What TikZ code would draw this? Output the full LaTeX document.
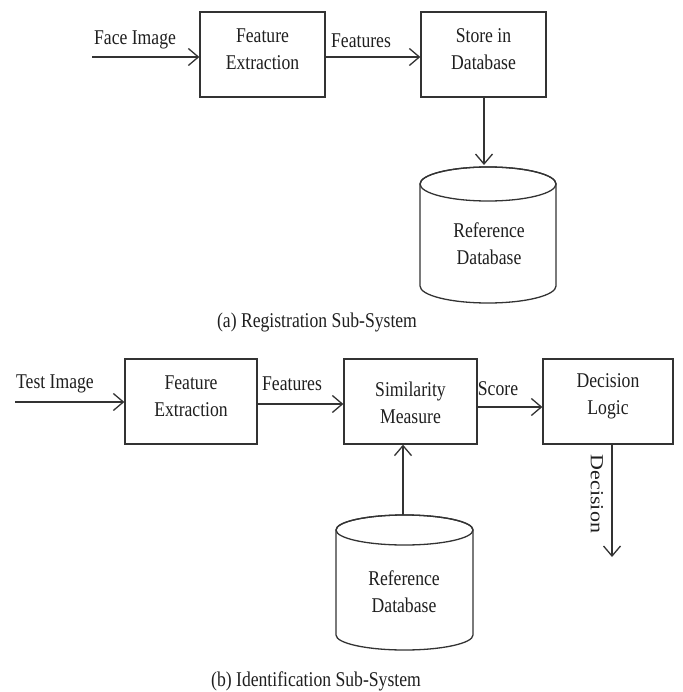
\documentclass[tikz,border=0pt]{standalone}
\usepackage{fontspec}
\setmainfont{Liberation Serif}[FakeStretch=0.84]
\newfontfamily\plainserif{Liberation Serif}
\usetikzlibrary{arrows.meta}
\begin{document}
\begin{tikzpicture}[x=1pt,y=1pt,
  line/.style={draw=black!80,line width=1.3pt},
  arr/.style={line,-{Straight Barb[length=10pt,width=17pt,line width=1.3pt]}},
  blk/.style={line,rectangle,inner sep=0pt},
  txt/.style={align=center,text=black!88,inner sep=0pt,font=\fontsize{21}{27}\selectfont},
  db/.style={line,fill=white}]
\useasboundingbox[fill=white] (0,0) rectangle (682,-692);
% ---------------- (a) Registration ----------------
\node[blk,minimum width=125pt,minimum height=85pt] (fe1) at (262.5,-54.5) {};
\node[txt] (fe1t) at (262.5,-49) {Feature\\Extraction};
\node[blk,minimum width=125pt,minimum height=85pt] (st) at (483.5,-54.5) {};
\node[txt] (stt) at (483.5,-49) {Store in\\Database};
\coordinate (in1) at (92,-57);
\draw[arr] (in1) -- (in1 -| fe1.west);
\node[txt] (lface) at (135,-40) {Face Image};
\draw[arr] (fe1.east |- in1) -- (st.west |- in1);
\node[txt] (lfeat1) at (361,-41) {Features};
% cylinder 1
\draw[db] (420,-184) -- (420,-286) arc (180:360:68pt and 17pt) -- (556,-184) arc (0:180:68pt and 17pt) -- cycle;
\draw[line] (488,-184) ellipse (68pt and 17pt);
\coordinate (c1top) at (484,-165);
\node[txt] (ref1) at (489,-244) {Reference\\Database};
\draw[arr] (st.south -| c1top) -- (c1top);
\node[txt] (capa) at (317,-322) {(a) Registration Sub-System};
% ---------------- (b) Identification ----------------
\node[blk,minimum width=132pt,minimum height=85pt] (fe2) at (191,-401.5) {};
\node[txt] (fe2t) at (191,-396) {Feature\\Extraction};
\node[blk,minimum width=133pt,minimum height=85pt] (sim) at (410.5,-401.5) {};
\node[txt] (simt) at (410.5,-403) {Similarity\\Measure};
\node[blk,minimum width=130pt,minimum height=85pt] (dec) at (608,-401.5) {};
\node[txt] (dect) at (608,-396) {Decision\\Logic};
\coordinate (in2) at (15,-402);
\draw[arr] (in2) -- (in2 -| fe2.west);
\node[txt] (ltest) at (55,-384) {Test Image};
\coordinate (f2y) at (0,-404);
\draw[arr] (fe2.east |- f2y) -- (sim.west |- f2y);
\node[txt] (lfeat2) at (292,-384) {Features};
\coordinate (sy) at (0,-407);
\draw[arr] (sim.east |- sy) -- (dec.west |- sy);
\node[txt] (lscore) at (498,-389) {Score};
\coordinate (dout) at (612,-557);
\draw[arr] (dec.south -| dout) -- (dout);
\node[txt,rotate=-90] (ldec) at (597,-494) {\plainserif\scalebox{1}[0.84]{\fontsize{22}{26}\selectfont Decision}};
% cylinder 2
\draw[db] (336,-530) -- (336,-635) arc (180:360:68.5pt and 15pt) -- (473,-530) arc (0:180:68.5pt and 15pt) -- cycle;
\draw[line] (404.5,-530) ellipse (68.5pt and 15pt);
\coordinate (c2top) at (403,-515);
\node[txt] (ref2) at (404,-592) {Reference\\Database};
\draw[arr] (c2top) -- (sim.south -| c2top);
\node[txt] (capb) at (316,-681) {(b) Identification Sub-System};
\end{tikzpicture}
\end{document}
